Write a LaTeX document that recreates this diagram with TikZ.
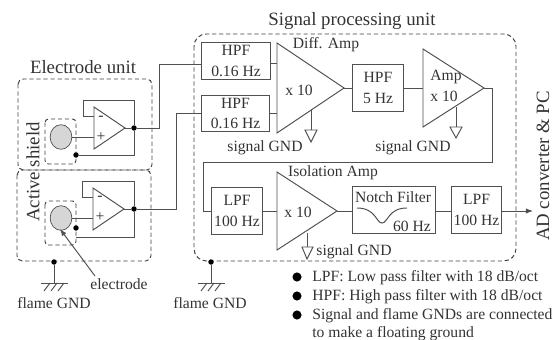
\documentclass[tikz,border=0pt]{standalone}
\usepackage{fontspec}
\setmainfont{Liberation Serif}
\usetikzlibrary{arrows.meta,shapes.geometric}
\definecolor{inkgray}{HTML}{505050}
\definecolor{bodygray}{HTML}{D6D6D6}
\tikzset{
  wire/.style={draw=inkgray, line width=0.55pt},
  unitbox/.style={draw=black!75, line width=0.55pt, dash pattern=on 2.4pt off 1.6pt},
  filterbox/.style={draw=inkgray, line width=0.6pt, rectangle, align=center, inner sep=0pt, font=\fontsize{8.9}{11.7}\selectfont, text=black!80},
  lbl/.style={text=black!80, inner sep=0pt, font=\fontsize{8.9}{10}\selectfont},
  biglbl/.style={text=black!80, inner sep=0pt, font=\fontsize{10.7}{12}\selectfont},
  dot/.style={circle, fill=black, inner sep=0pt, minimum size=3.1pt},
  sensor/.style={draw=inkgray, fill=bodygray, ellipse, minimum width=12.4pt, minimum height=14pt, inner sep=0pt},
}
\begin{document}
\begin{tikzpicture}[x=0.02cm, y=-0.02cm]
\useasboundingbox (0,0) rectangle (553,340);

% Electrode unit
\draw[unitbox, rounded corners=3pt] (18,79) rectangle (152,170);
\draw[unitbox, rounded corners=3pt] (17,170) rectangle (151,261);
\draw[unitbox, rounded corners=2pt] (45,119) rectangle (76,164);
\draw[unitbox, rounded corners=2pt] (45,201) rectangle (76,245);
\node[biglbl] (elunit) at (83,67) {Electrode unit};
\node[biglbl, rotate=90] (shield) at (33,172) {Active shield};

\node[sensor] (ela) at (61,137) {};
\node[sensor] (elb) at (61,218) {};

% Op amps
\draw[wire] (94,107) -- (94,149) -- (125,128) -- cycle;
\draw[wire] (93,188) -- (93,230) -- (124,209) -- cycle;
\node[lbl] (minusa) at (101,118) {-};
\node[lbl] (plusa) at (101,137) {+};
\node[lbl] (minusb) at (100,198) {-};
\node[lbl] (plusb) at (100,217) {+};
\draw[wire] (ela.east) -- (94,137);
\draw[wire] (elb.east) -- (93,218);

% Feedback
\node[dot] (outa) at (134,128) {};
\node[dot] (outb) at (134,209) {};
\node[dot] (shda) at (76,155) {};
\node[dot] (shdb) at (76,228) {};
\draw[wire] (125,128) -- (outa);
\draw[wire] (124,209) -- (outb);
\draw[wire] (94,116) -- (83,116) -- (83,100) -- (134,100) -- (outa) -- (134,155) -- (shda);
\draw[wire] (93,197) -- (82,197) -- (82,181) -- (134,181) -- (outb) -- (134,237) -- (76,237);

% Signal processing unit
\draw[unitbox, rounded corners=7pt] (194,34) rectangle (516,261);
\node[biglbl] (sigunit) at (352,21) {Signal processing unit};

% Filters
\node[filterbox, minimum width=39.7pt, minimum height=21.5pt] (hpfa) at (236,61) {HPF\\0.16 Hz};
\node[filterbox, minimum width=39.1pt, minimum height=21pt] (hpfb) at (235.5,113.5) {HPF\\0.16 Hz};
\node[filterbox, minimum width=29.5pt, minimum height=27.2pt] (hpfc) at (378,88) {HPF\\5 Hz};
\node[filterbox, minimum width=29.5pt, minimum height=27.2pt] (lpfa) at (237,211) {LPF\\100 Hz};
\node[filterbox, minimum width=47.6pt, minimum height=27.2pt] (notch) at (394,210) {};
\node[filterbox, minimum width=28.9pt, minimum height=27.2pt] (lpfb) at (476.5,210) {LPF\\100 Hz};
\node[lbl] (notchlbl) at (393,197) {Notch Filter};
\node[lbl] (notchhz) at (412,226) {60 Hz};
\draw[wire] (357,208) .. controls (376,208) and (376,223) .. (382,223) .. controls (388,223) and (388,208) .. (407,208);

% Amps
\draw[wire] (277,43) -- (277,133) -- (344,88) -- cycle;
\draw[wire] (423,49) -- (423,127) -- (484,88) -- cycle;
\draw[wire] (277,172) -- (277,250) -- (337,211) -- cycle;
\node[lbl] (diff) at (326,45) {Diff. Amp};
\node[lbl] (diffx) at (299,90) {x 10};
\node[lbl] (ampl) at (446,77) {Amp};
\node[lbl] (ampx) at (444,96) {x 10};
\node[lbl] (iso) at (333,173) {Isolation Amp};
\node[lbl] (isox) at (298,212) {x 10};

% Signal path
\coordinate (inadc) at (533,211);
\draw[wire] (outa) -- (159,128) -- (159,64) -- (hpfa.west |- 0,64);
\draw[wire] (outb) -- (176,209) -- (176,113) -- (hpfb.west |- 0,113);
\draw[wire] (hpfa.east |- 0,63) -- (277,63);
\draw[wire] (hpfb.east |- 0,113) -- (277,113);
\draw[wire] (344,88) -- (hpfc.west);
\draw[wire] (hpfc.east) -- (423,88);
\draw[wire] (484,88) -- (492,88) -- (492,162) -- (203,162) -- (203,211) -- (lpfa.west);
\draw[wire] (lpfa.east) -- (277,211);
\draw[wire] (337,211) -- (notch.west |- 0,211);
\draw[wire] (notch.east |- 0,211) -- (lpfb.west |- 0,211);
\draw[wire, -{Latex[length=4pt,width=3pt]}] (lpfb.east |- 0,211) -- (inadc);
\node[biglbl, rotate=90] (adpc) at (543,166) {AD converter \& PC};

% Signal GND
\draw[wire] (311,110) -- (311,130);
\draw[wire] (305,130) -- (317,130) -- (311,142) -- cycle;
\draw[wire] (456,107) -- (456,127);
\draw[wire] (450,127) -- (462,127) -- (456,138) -- cycle;
\draw[wire] (307,233) -- (307,247);
\draw[wire] (302,247) -- (313,247) -- (307,259) -- cycle;
\node[lbl] (sgnda) at (265,148) {signal GND};
\node[lbl] (sgndb) at (413,148) {signal GND};
\node[lbl] (sgndc) at (354,252) {signal GND};

% Flame GND
\node[dot] (fgnda) at (54,262) {};
\node[dot] (fgndb) at (211,262) {};
\draw[wire] (fgnda) -- (54,283);
\draw[wire] (fgndb) -- (211,283);
\draw[wire] (41,283) -- (68,283);
\draw[wire] (198,283) -- (225,283);
\foreach \gx in {44,51,58} \draw[wire] (\gx+6,283) -- (\gx,291);
\foreach \gx in {201,208,215} \draw[wire] (\gx+6,283) -- (\gx,291);
\node[lbl] (flamea) at (54,303) {flame GND};
\node[lbl] (flameb) at (210,303) {flame GND};

% Electrode pointer
\node[lbl] (ellbl) at (119,284) {electrode};
\draw[wire, -{Latex[length=4pt,width=3pt]}] (95,276) -- (60,229);

% Notes
\foreach \ny in {277,296,315} \node[dot, minimum size=5.2pt] at (297,\ny) {};
\node[lbl, anchor=west] (notea) at (312,278) {LPF: Low pass filter with 18 dB/oct};
\node[lbl, anchor=west] (noteb) at (312,297) {HPF: High pass filter with 18 dB/oct};
\node[lbl, anchor=west] (notec) at (312,316) {Signal and flame GNDs are connected};
\node[lbl, anchor=west] (noted) at (312,334) {to make a floating ground};
\end{tikzpicture}
\end{document}
